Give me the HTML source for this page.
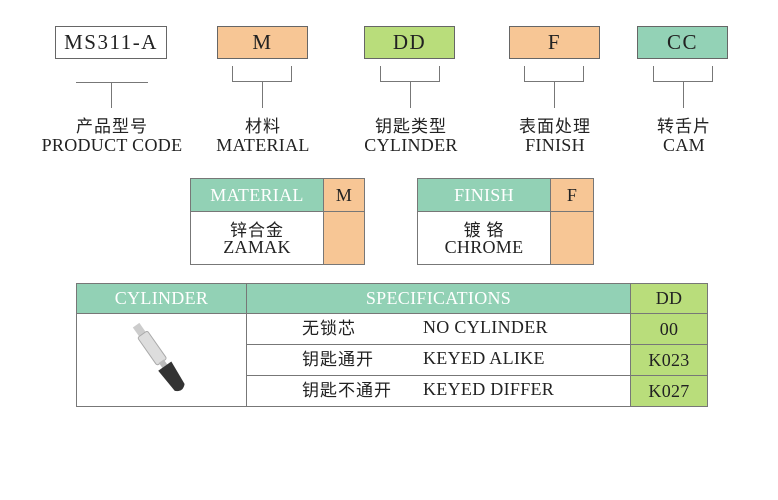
<!DOCTYPE html><html><head><meta charset="utf-8"><style>
body{margin:0;width:778px;height:500px;background:#fff;position:relative;overflow:hidden;font-family:"Liberation Serif","Noto Serif CJK SC",serif;color:#222}
.a{position:absolute;box-sizing:border-box}
.box{border:1px solid #666;text-align:center;font-size:21px;line-height:31px;letter-spacing:1.5px}
.l{background:#777}
.cn{font-family:"Noto Sans CJK SC",sans-serif;font-size:17px;letter-spacing:1px}
.lab{position:absolute;text-align:center;width:160px;line-height:20px}
.en{font-size:18px;letter-spacing:0.3px}
.t{border:1px solid #777}
.teal{background:#92d1b5;color:#fff}
.or{background:#f7c695}
.gr{background:#b9dd7b}
.h{text-align:center;font-size:18px;letter-spacing:0.3px}
</style></head><body>
<div class="a box" style="left:55px;top:26px;width:112px;height:33px;background:#fff">MS311-A</div>
<div class="a box or" style="left:217px;top:26px;width:91px;height:33px">M</div>
<div class="a box gr" style="left:364px;top:26px;width:91px;height:33px">DD</div>
<div class="a box or" style="left:509px;top:26px;width:91px;height:33px">F</div>
<div class="a box" style="left:637px;top:26px;width:91px;height:33px;background:#93d2b6">CC</div>
<div class="a l" style="left:76px;top:82px;width:72px;height:1px"></div>
<div class="a l" style="left:111px;top:82px;width:1px;height:26px"></div>
<div class="a" style="left:232px;top:66px;width:60px;height:16px;border:1px solid #777;border-top:none"></div>
<div class="a l" style="left:262px;top:82px;width:1px;height:26px"></div>
<div class="a" style="left:380px;top:66px;width:60px;height:16px;border:1px solid #777;border-top:none"></div>
<div class="a l" style="left:410px;top:82px;width:1px;height:26px"></div>
<div class="a" style="left:524px;top:66px;width:60px;height:16px;border:1px solid #777;border-top:none"></div>
<div class="a l" style="left:554px;top:82px;width:1px;height:26px"></div>
<div class="a" style="left:653px;top:66px;width:60px;height:16px;border:1px solid #777;border-top:none"></div>
<div class="a l" style="left:683px;top:82px;width:1px;height:26px"></div>
<div class="lab" style="left:32px;top:115px"><div class="cn">产品型号</div><div class="en">PRODUCT CODE</div></div>
<div class="lab" style="left:183px;top:115px"><div class="cn">材料</div><div class="en">MATERIAL</div></div>
<div class="lab" style="left:331px;top:115px"><div class="cn">钥匙类型</div><div class="en">CYLINDER</div></div>
<div class="lab" style="left:475px;top:115px"><div class="cn">表面处理</div><div class="en">FINISH</div></div>
<div class="lab" style="left:604px;top:115px"><div class="cn">转舌片</div><div class="en">CAM</div></div>
<div class="a t teal h" style="left:190px;top:178px;width:134px;height:34px;line-height:32px">MATERIAL</div>
<div class="a t or h" style="left:323px;top:178px;width:42px;height:34px;line-height:32px">M</div>
<div class="a t" style="left:190px;top:211px;width:134px;height:54px;text-align:center;line-height:19px;padding-top:7px"><div class="cn">锌合金</div><div class="en">ZAMAK</div></div>
<div class="a t or" style="left:323px;top:211px;width:42px;height:54px"></div>
<div class="a t teal h" style="left:417px;top:178px;width:134px;height:34px;line-height:32px">FINISH</div>
<div class="a t or h" style="left:550px;top:178px;width:44px;height:34px;line-height:32px">F</div>
<div class="a t" style="left:417px;top:211px;width:134px;height:54px;text-align:center;line-height:19px;padding-top:7px"><div class="cn">镀 铬</div><div class="en">CHROME</div></div>
<div class="a t or" style="left:550px;top:211px;width:44px;height:54px"></div>
<div class="a t teal h" style="left:76px;top:283px;width:171px;height:31px;line-height:29px">CYLINDER</div>
<div class="a t teal h" style="left:246px;top:283px;width:385px;height:31px;line-height:29px">SPECIFICATIONS</div>
<div class="a t gr h" style="left:630px;top:283px;width:78px;height:31px;line-height:29px">DD</div>
<div class="a t" style="left:76px;top:313px;width:171px;height:94px"></div>
<div class="a t" style="left:246px;top:313px;width:385px;height:32px"></div>
<div class="a t" style="left:246px;top:344px;width:385px;height:32px"></div>
<div class="a t" style="left:246px;top:375px;width:385px;height:32px"></div>
<div class="a t gr h" style="left:630px;top:313px;width:78px;height:32px;line-height:30px">00</div>
<div class="a t gr h" style="left:630px;top:344px;width:78px;height:32px;line-height:30px">K023</div>
<div class="a t gr h" style="left:630px;top:375px;width:78px;height:32px;line-height:30px">K027</div>
<div class="a cn" style="left:302px;top:314px">无锁芯</div>
<div class="a en" style="left:423px;top:317px">NO CYLINDER</div>
<div class="a cn" style="left:302px;top:345px">钥匙通开</div>
<div class="a en" style="left:423px;top:348px">KEYED ALIKE</div>
<div class="a cn" style="left:302px;top:376px">钥匙不通开</div>
<div class="a en" style="left:423px;top:379px">KEYED DIFFER</div>
<svg class="a" style="left:76px;top:313px" width="170" height="93">
<g transform="rotate(-35 85 46)">
<rect x="80" y="4" width="8" height="12" fill="#ccc"/>
<rect x="78" y="15" width="12" height="34" rx="2" fill="#ddd" stroke="#aaa"/>
<rect x="81" y="48" width="6" height="6" fill="#bbb"/>
<path d="M76 54 h16 l-2 26 q-6 6 -12 0z" fill="#333"/>
</g></svg>
</body></html>
